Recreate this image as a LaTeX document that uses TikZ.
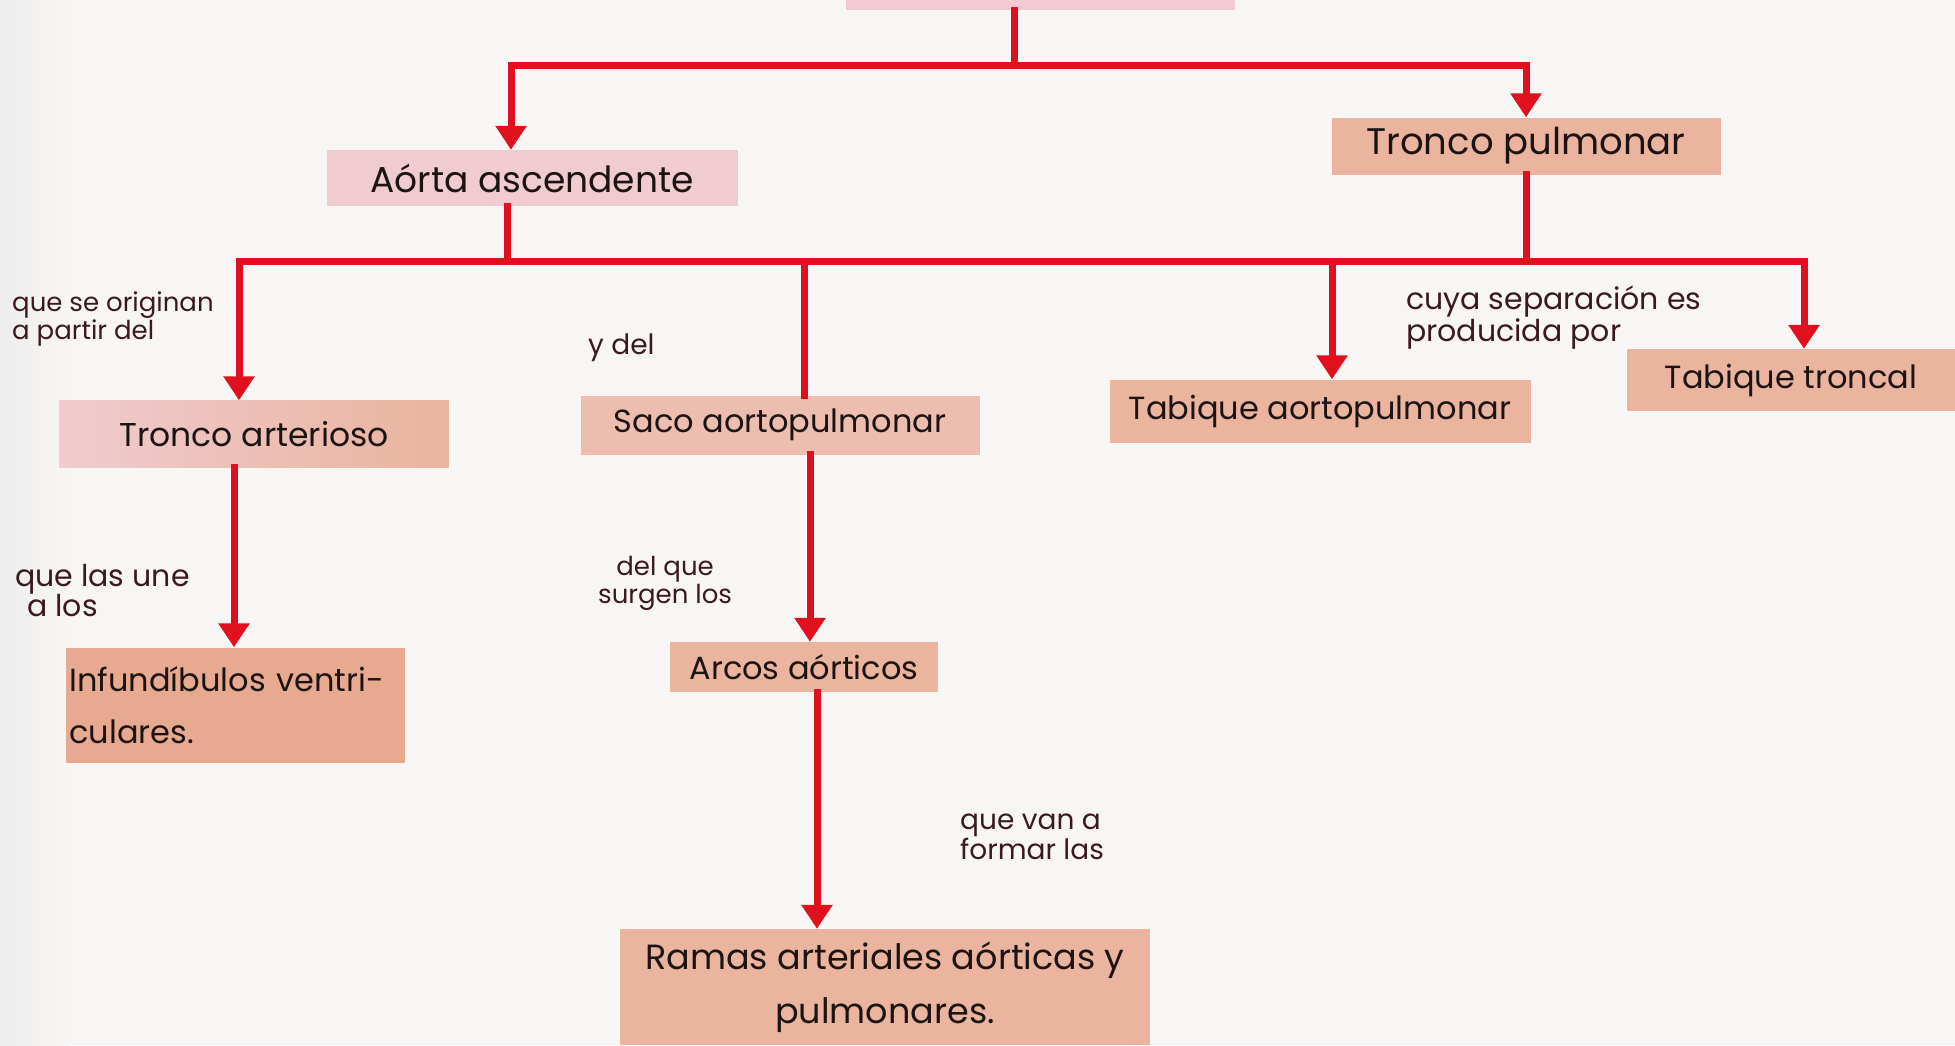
\documentclass[tikz,border=0pt]{standalone}
\usepackage{fontspec}
\setmainfont{Poppins}
\usetikzlibrary{arrows.meta}
\definecolor{paper}{HTML}{F8F6F4}
\definecolor{ink}{HTML}{1C1414}
\definecolor{noteink}{HTML}{3A1A20}
\definecolor{marker}{HTML}{E1101E}
\definecolor{pinkbox}{HTML}{F3CAD3}
\definecolor{rosebox}{HTML}{F0CBCF}
\definecolor{salmon}{HTML}{EAB49E}
\definecolor{salmondark}{HTML}{E7A98F}
\definecolor{peach}{HTML}{EDBDB0}
\begin{document}
\begin{tikzpicture}[x=1pt,y=-1pt,
  wire/.style={draw=marker, line width=7pt, line cap=rect},
  arr/.style={wire, -{Triangle[width=30pt,length=24pt]}},
  box/.style={inner sep=0pt, text=ink, font=\fontsize{32}{52}\selectfont},
  note/.style={inner sep=0pt, anchor=north west, text=noteink, align=left,
    font=\fontsize{26}{28}\selectfont}]

% paper
\fill[paper] (0,0) rectangle (1955,1045);
\shade[left color=black!7, right color=paper] (0,0) rectangle (70,1045);
\useasboundingbox (0,0) rectangle (1955,1045);

% boxes
\node[box, fill=pinkbox, minimum width=389, minimum height=60] (top) at (1040,-20) {};
\node[box, fill=rosebox, minimum width=411, minimum height=56,
      font=\fontsize{36}{40}\selectfont] (aorta) at (532,178) {Aórta ascendente};
\node[box, fill=salmon, minimum width=389, minimum height=57,
      font=\fontsize{37}{40}\selectfont] (tpulm) at (1526,146) {Tronco pulmonar};
\node[box, left color=rosebox, right color=salmon, minimum width=389, minimum height=67,
      font=\fontsize{33}{40}\selectfont] (tarter) at (254,434) {Tronco arterioso};
\node[box, fill=peach, minimum width=399, minimum height=59] (saco) at (780,425) {Saco aortopulmonar};
\node[box, fill=salmon, minimum width=421, minimum height=63] (tabao) at (1320,411) {Tabique aortopulmonar};
\node[box, fill=salmon, minimum width=328, minimum height=62] (tabtr) at (1791,380) {Tabique troncal};
\node[box, fill=salmondark, minimum width=339, minimum height=115, align=left,
      text width=331, font=\fontsize{32}{52}\selectfont] (infund) at (235,705) {Infundíbulos ventri-\\culares.};
\node[box, fill=salmon, minimum width=268, minimum height=50,
      font=\fontsize{32}{36}\selectfont] (arcos) at (804,667) {Arcos aórticos};
\node[box, fill=salmon, minimum width=530, minimum height=116, align=center,
      font=\fontsize{35}{54}\selectfont] (ramos) at (885,987) {Ramas arteriales aórticas y\\pulmonares.};

% first split
\coordinate (j1) at (1014,65);
\draw[wire] (top.south -| j1) -- (j1);
\coordinate (a0) at (511,0);
\draw[arr] (j1) -| (aorta.north -| a0);
\draw[arr] (j1) -| (tpulm.north);

% second split
\coordinate (d1) at (507,261);
\coordinate (d2) at (1526,261);
\coordinate (d3) at (239,261);
\coordinate (d4) at (804,261);
\coordinate (d5) at (1332,261);
\coordinate (d6) at (1804,261);
\draw[wire] (d3) -- (d6);
\draw[wire] (aorta.south -| d1) -- (d1);
\draw[wire] (tpulm.south -| d2) -- (d2);
\draw[arr] (d3) -- (tarter.north -| d3);
\draw[wire] (d4) -- (saco.north -| d4);
\draw[arr] (d5) -- (tabao.north -| d5);
\draw[arr] (d6) -- (tabtr.north -| d6);

% lower chains
\coordinate (c1) at (234,0);
\coordinate (c2) at (810,0);
\coordinate (c3) at (817,0);
\draw[arr] (tarter.south -| c1) -- (infund.north -| c1);
\draw[arr] (saco.south -| c2) -- (arcos.north -| c2);
\draw[arr] (arcos.south -| c3) -- (ramos.north -| c3);

% linking words
\node[note] (n1) at (12,292) {que se originan\\a partir del};
\node[note, font=\fontsize{28}{28}\selectfont] (n2) at (588,334) {y del};
\node[note, font=\fontsize{30}{29}\selectfont] (n3) at (1406,286) {cuya separación es\\producida por};
\node[note, font=\fontsize{30}{30}\selectfont] (n4) at (15,564) {que las une\\\hspace*{12pt}a los};
\node[note, align=center] (n5) at (598,556) {del que\\surgen los};
\node[note, font=\fontsize{28}{30}\selectfont] (n6) at (960,814) {que van a\\formar las};
\end{tikzpicture}
\end{document}
